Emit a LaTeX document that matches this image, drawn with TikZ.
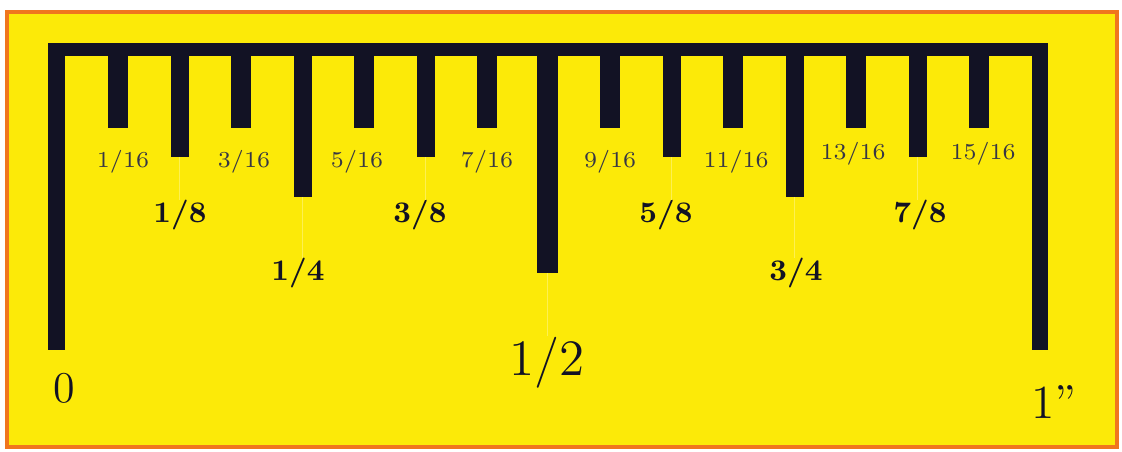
\documentclass[tikz,border=0pt]{standalone}
\usepackage{amsmath}
\usepackage{tikz}
\usetikzlibrary{positioning}

\definecolor{regla}{RGB}{252,234,8}
\definecolor{borde}{RGB}{240,118,30}
\definecolor{tinta}{RGB}{18,18,36}

\tikzset{
  marca/.style={fill=tinta, draw=none},
  guia/.style={draw=regla!70!white, line width=0.4pt},
  dieciseis/.style={font=\fontsize{6.5}{7}\selectfont, text=tinta!85, inner sep=0pt, anchor=base},
  octavo/.style={font=\fontsize{8.5}{9}\selectfont\bfseries, text=tinta, inner sep=0pt, anchor=base},
  grande/.style={font=\fontsize{14.5}{16}\selectfont, text=tinta, inner sep=0pt, anchor=base},
}

\begin{document}
\begin{tikzpicture}[x=0.01cm, y=-0.01cm]
    \useasboundingbox (0,0) rectangle (1122,452);
    % fondo de la regla
    \draw[borde, line width=4*0.01cm, fill=regla] (7,12) rectangle (1117,447);

    % marco: barra superior y extremos 0 y 1
    \fill[marca] (48,43) rectangle (1048,56);
    \fill[marca] (48,43) rectangle (65,350);
    \fill[marca] (1032,43) rectangle (1048,350);

    % marcas de 1/16
    \foreach \k in {1,3,...,15}
        \fill[marca] ({56.5+61.5*\k-10},50) rectangle ({56.5+61.5*\k+10},128);
    % marcas de 1/8
    \foreach \k in {2,6,10,14} {
        \fill[marca] ({56.5+61.5*\k-9},50) rectangle ({56.5+61.5*\k+9},157);
        \coordinate (t\k) at ({56.5+61.5*\k},157);
    }
    % marcas de 1/4
    \foreach \k in {4,12} {
        \fill[marca] ({56.5+61.5*\k-9},50) rectangle ({56.5+61.5*\k+9},197);
        \coordinate (t\k) at ({56.5+61.5*\k},197);
    }
    % marca de 1/2
    \fill[marca] (537,50) rectangle (558,273);
    \coordinate (t8) at (547.5,273);

    % rotulos de 1/16
    \foreach \n/\x/\y in {1/123/168, 3/244/168, 5/357/168, 7/487/168,
                          9/610/168, 11/736/168, 13/853/160, 15/983/160}
        \node[dieciseis] (s\n) at (\x,\y) {\n/16};

    % rotulos de 1/8 y 1/4
    \node[octavo] (o2) at (180,223) {1/8};
    \node[octavo] (o6) at (420,223) {3/8};
    \node[octavo] (o10) at (666,223) {5/8};
    \node[octavo] (o14) at (920,223) {7/8};
    \node[octavo] (o4) at (298,281) {1/4};
    \node[octavo] (o12) at (796,281) {3/4};

    % rotulos grandes
    \node[grande] (o8) at (547,375) {1/2};
    \node[grande, font=\fontsize{12.5}{14}\selectfont] (cero) at (64,402) {0};
    \node[grande, font=\fontsize{13.5}{15}\selectfont] (uno) at (1054,418) {1''};

    % guias tenues
    \foreach \k in {2,4,6,8,10,12,14}
        \draw[guia] (t\k) -- (t\k |- o\k.north);
\end{tikzpicture}
\end{document}
